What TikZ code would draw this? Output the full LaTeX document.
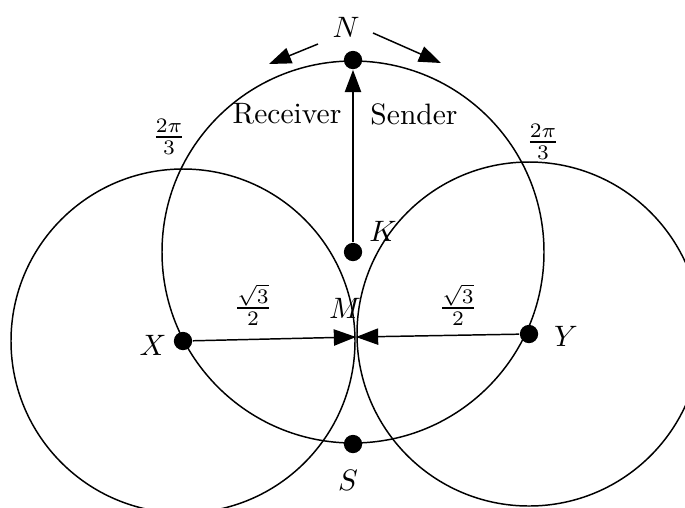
\documentclass[tikz,border=0pt]{standalone}
\usetikzlibrary{arrows.meta}
\begin{document}
\begin{tikzpicture}[x=0.0119cm,y=-0.0119cm,line width=0.5pt,>={Triangle[length=7.5pt,width=5.5pt]},
  dot/.style={circle,fill=black,inner sep=0pt,minimum size=6.2pt}]
\clip (0,0) rectangle (685,507);
% points on the middle circle
\node[dot] (K) at (353,252) {};
\node[dot] (N) at (353,60) {};
\node[dot] (S) at (353,444) {};
\node[dot] (X) at (183,341) {};
\node[dot] (Y) at (529,334) {};
\coordinate (M) at (356,337);
% the three circles
\draw (K.center) circle[radius=191];
\draw (X.center) circle[radius=172];
\draw (Y.center) circle[radius=172];
% radii to M and to N
\draw[->] (X) -- (M);
\draw[->] (Y) -- (M);
\draw[->] (K) -- (N);
% directions of travel at N
\coordinate (rl0) at (318,44);
\coordinate (rl1) at (269,64);
\coordinate (sd0) at (373,33);
\coordinate (sd1) at (441,63);
\draw[->] (rl0) -- (rl1);
\draw[->] (sd0) -- (sd1);
% point labels
\node (labN) at (346,27) {$N$};
\node (labK) at (383,231) {$K$};
\node (labM) at (345,308) {$M$};
\node (labX) at (153,345) {$X$};
\node (labY) at (566,336) {$Y$};
\node (labS) at (348,480) {$S$};
% other labels
\node (recv) at (287,114) {Receiver};
\node (send) at (414,114) {Sender};
\node (angL) at (169,137) {$\frac{2\pi}{3}$};
\node (angR) at (543,142) {$\frac{2\pi}{3}$};
\node (lenL) at (253,305) {$\frac{\sqrt{3}}{2}$};
\node (lenR) at (458,305) {$\frac{\sqrt{3}}{2}$};
\end{tikzpicture}
\end{document}
